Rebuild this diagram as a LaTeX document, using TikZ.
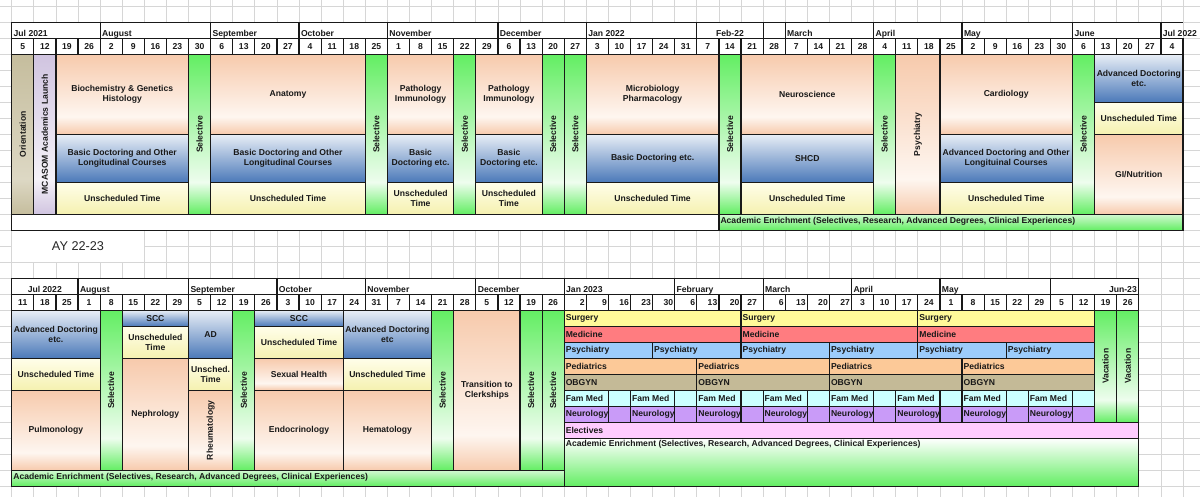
\documentclass[tikz,border=0pt]{standalone}
\usepackage{fontspec}
\setmainfont{Liberation Sans}
\definecolor{peach}{HTML}{F7CAAC}
\definecolor{peachw}{HTML}{FEF6F0}
\definecolor{selg}{HTML}{63EE63}
\definecolor{selgw}{HTML}{EEFDEE}
\definecolor{tanc}{HTML}{C5BD9D}
\definecolor{tanw}{HTML}{DDD8C4}
\definecolor{lavc}{HTML}{D0C4E0}
\definecolor{lavw}{HTML}{F5F2F8}
\definecolor{bluetop}{HTML}{E8EEF6}
\definecolor{bluebot}{HTML}{4B79B9}
\definecolor{yeltop}{HTML}{FFFEEA}
\definecolor{yelbot}{HTML}{F5F1B0}
\definecolor{aetop}{HTML}{D2F9D2}
\definecolor{surgc}{HTML}{FFFA99}
\definecolor{medc}{HTML}{FF7C80}
\definecolor{psyc}{HTML}{9CCCFB}
\definecolor{pedc}{HTML}{FCC998}
\definecolor{obc}{HTML}{C4BA97}
\definecolor{fmcol}{HTML}{CCFFFF}
\definecolor{nrcol}{HTML}{C99BF8}
\definecolor{elcol}{HTML}{FFCCFF}
\definecolor{gridc}{HTML}{D6D6D6}
\pgfdeclareverticalshading{peachsh}{100bp}{color(0bp)=(peach); color(25bp)=(peach); color(36bp)=(peachw); color(75bp)=(peach); color(100bp)=(peach)}
\pgfdeclareverticalshading{greensh}{100bp}{color(0bp)=(selg); color(25bp)=(selg); color(35bp)=(selgw); color(75bp)=(selg); color(100bp)=(selg)}
\pgfdeclareverticalshading{tansh}{100bp}{color(0bp)=(tanc); color(25bp)=(tanc); color(36bp)=(tanw); color(75bp)=(tanc); color(100bp)=(tanc)}
\pgfdeclareverticalshading{lavsh}{100bp}{color(0bp)=(lavc); color(25bp)=(lavc); color(36bp)=(lavw); color(75bp)=(lavc); color(100bp)=(lavc)}
\newcommand\lbl{\fontsize{8.6}{10}\selectfont\bfseries}
\tikzset{
  box/.style={draw=black!90, line width=1.2pt, inner sep=0pt, outer sep=0pt, rectangle, align=center, font=\lbl, text=black!90},
  txt/.style={inner sep=0pt, outer sep=0pt, font=\lbl, text=black!90, align=center},
  hdr/.style={fill=white},
  pch/.style={shade, shading=peachsh},
  grn/.style={shade, shading=greensh},
  tanbox/.style={shade, shading=tansh},
  lavbox/.style={shade, shading=lavsh},
  blu/.style={top color=bluetop, bottom color=bluebot},
  yel/.style={top color=yeltop, bottom color=yelbot},
  aeg/.style={top color=aetop, bottom color=selg},
  aeg2/.style={top color=white, bottom color=selg},
  gridline/.style={draw=gridc, line width=0.8pt}
}
% #1 name, #2 style, #3 c1, #4 c2, #5 y1, #6 y2, #7 text
\newcommand\cell[7]{%
  \pgfmathsetmacro\cxa{11.7+(#3)*22.1}%
  \pgfmathsetmacro\cxb{11.7+(#4)*22.1}%
  \pgfmathsetmacro\cwd{\cxb-\cxa}%
  \pgfmathsetmacro\cht{(#6)-(#5)}%
  \pgfmathsetmacro\cxm{(\cxa+\cxb)/2}%
  \pgfmathsetmacro\cym{((#5)+(#6))/2}%
  \node[box,#2,minimum width=\cwd pt,minimum height=\cht pt] (#1) at (\cxm,\cym) {#7};}
\newcommand\rcell[7]{\cell{#1}{#2}{#3}{#4}{#5}{#6}{}\node[txt,rotate=90] (#1t) at (#1.center) {#7};}
\newcommand\lcell[7]{\cell{#1}{#2}{#3}{#4}{#5}{#6}{}\node[txt,anchor=west] (#1t) at ([xshift=1.6pt]#1.west) {#7};}
\newcommand\mon[5]{\cell{#1}{hdr}{#2}{#3}{#4}{#4+16}{}\node[txt,anchor=base west] (#1t) at ([xshift=2pt,yshift=2.2pt]#1.south west) {#5};}
\newcommand\dcell[4]{\pgfmathsetmacro\cnext{#2+1}\cell{#1}{hdr}{#2}{\cnext}{#3}{#3+16}{#4}}
\newcommand\dcellr[4]{\pgfmathsetmacro\cnext{#2+1}\cell{#1}{hdr}{#2}{\cnext}{#3}{#3+16}{}\node[txt,anchor=east] (#1t) at ([xshift=-1.6pt]#1.east) {#4};}
\begin{document}
\begin{tikzpicture}[x=1pt,y=-1pt]
\useasboundingbox (0,0) rectangle (1200,497);
\fill[white] (0,0) rectangle (1200,497);
% spreadsheet grid
\foreach \k in {0,...,53}{\draw[gridline] ({11.7+\k*22.1},0) -- ({11.7+\k*22.1},497);}
\foreach \k in {0,...,30}{\draw[gridline] (0,{6.3+16*\k}) -- (1200,{6.3+16*\k});}

% ================= AY 21-22 =================
\mon{tm1}{0}{4}{22.3}{Jul 2021}
\mon{tm2}{4}{9}{22.3}{August}
\mon{tm3}{9}{13}{22.3}{September}
\mon{tm4}{13}{17}{22.3}{October}
\mon{tm5}{17}{22}{22.3}{November}
\mon{tm6}{22}{26}{22.3}{December}
\mon{tm7}{26}{31}{22.3}{Jan 2022}
\cell{tm8}{hdr}{31}{34}{22.3}{38.3}{}
\node[txt,anchor=base] (tm8t) at ([yshift=2.2pt]tm8.south) {Feb-22};
\cell{tm9}{hdr}{34}{35}{22.3}{38.3}{}
\mon{tm10}{35}{39}{22.3}{March}
\mon{tm11}{39}{43}{22.3}{April}
\mon{tm12}{43}{48}{22.3}{May}
\mon{tm13}{48}{52}{22.3}{June}
\cell{tm14}{hdr,draw=none}{52}{53}{22.3}{38.3}{}
\draw[draw=black!90,line width=1.2pt] (tm14.south west) -- (tm14.north west) -- (tm14.north east);
\node[txt,anchor=base west] (tm14t) at ([xshift=2pt,yshift=2.2pt]tm14.south west) {Jul 2022};
\foreach \d [count=\i from 0] in {5,12,19,26,2,9,16,23,30,6,13,20,27,4,11,18,25,1,8,15,22,29,6,13,20,27,3,10,17,24,31,7,14,21,28,7,14,21,28,4,11,18,25,2,9,16,23,30,6,13,20,27,4}{\dcell{td\i}{\i}{38.3}{\d}}

\rcell{orient}{tanbox}{0}{1}{54.3}{214.3}{Orientation}
\rcell{launch}{lavbox}{1}{2}{54.3}{214.3}{MCASOM Academics Launch}
\cell{bio}{pch}{2}{8}{54.3}{134.3}{Biochemistry \& Genetics\\Histology}
\cell{bd1}{blu}{2}{8}{134.3}{182.3}{Basic Doctoring and Other\\Longitudinal Courses}
\cell{u1}{yel}{2}{8}{182.3}{214.3}{Unscheduled Time}
\rcell{s1}{grn}{8}{9}{54.3}{214.3}{Selective}
\cell{anat}{pch}{9}{16}{54.3}{134.3}{Anatomy}
\cell{bd2}{blu}{9}{16}{134.3}{182.3}{Basic Doctoring and Other\\Longitudinal Courses}
\cell{u2}{yel}{9}{16}{182.3}{214.3}{Unscheduled Time}
\rcell{s2}{grn}{16}{17}{54.3}{214.3}{Selective}
\cell{path1}{pch}{17}{20}{54.3}{134.3}{Pathology\\Immunology}
\cell{bd3}{blu}{17}{20}{134.3}{182.3}{Basic\\Doctoring etc.}
\cell{u3}{yel}{17}{20}{182.3}{214.3}{Unscheduled\\Time}
\rcell{s3}{grn}{20}{21}{54.3}{214.3}{Selective}
\cell{path2}{pch}{21}{24}{54.3}{134.3}{Pathology\\Immunology}
\cell{bd4}{blu}{21}{24}{134.3}{182.3}{Basic\\Doctoring etc.}
\cell{u4}{yel}{21}{24}{182.3}{214.3}{Unscheduled\\Time}
\rcell{s4}{grn}{24}{25}{54.3}{214.3}{Selective}
\rcell{s5}{grn}{25}{26}{54.3}{214.3}{Selective}
\cell{micro}{pch}{26}{32}{54.3}{134.3}{Microbiology\\Pharmacology}
\cell{bd5}{blu}{26}{32}{134.3}{182.3}{Basic Doctoring etc.}
\cell{u5}{yel}{26}{32}{182.3}{214.3}{Unscheduled Time}
\rcell{s6}{grn}{32}{33}{54.3}{214.3}{Selective}
\cell{neuro}{pch}{33}{39}{54.3}{134.3}{Neuroscience}
\cell{shcd}{blu}{33}{39}{134.3}{182.3}{SHCD}
\cell{u6}{yel}{33}{39}{182.3}{214.3}{Unscheduled Time}
\rcell{s7}{grn}{39}{40}{54.3}{214.3}{Selective}
\rcell{psy}{pch}{40}{42}{54.3}{214.3}{Psychiatry}
\cell{cardio}{pch}{42}{48}{54.3}{134.3}{Cardiology}
\cell{adv1}{blu}{42}{48}{134.3}{182.3}{Advanced Doctoring and Other\\Longituinal Courses}
\cell{u7}{yel}{42}{48}{182.3}{214.3}{Unscheduled Time}
\rcell{s8}{grn}{48}{49}{54.3}{214.3}{Selective}
\cell{adv2}{blu}{49}{53}{54.3}{102.3}{Advanced Doctoring\\etc.}
\cell{u8}{yel}{49}{53}{102.3}{134.3}{Unscheduled Time}
\cell{gi}{pch}{49}{53}{134.3}{214.3}{GI/Nutrition}
\cell{aew}{hdr}{0}{32}{214.3}{230.3}{}
\cell{ae1}{aeg}{32}{53}{214.3}{230.3}{}
\node[txt,anchor=west] (ae1t) at ([xshift=1.6pt,yshift=1.5pt]ae1.west) {Academic Enrichment (Selectives, Research, Advanced Degrees, Clinical Experiences)};

% AY label
\node[fill=white, inner sep=0pt, minimum width=132.6pt, minimum height=31pt, font=\fontsize{12.7}{14}\selectfont, text=black!85] (ay) at (78,246.3) {AY 22-23};

% ================= AY 22-23 =================
\cell{bm1}{hdr}{0}{3}{278.3}{294.3}{}
\node[txt,anchor=base] (bm1t) at ([yshift=2.2pt]bm1.south) {Jul 2022};
\mon{bm2}{3}{8}{278.3}{August}
\mon{bm3}{8}{12}{278.3}{September}
\mon{bm4}{12}{16}{278.3}{October}
\mon{bm5}{16}{21}{278.3}{November}
\mon{bm6}{21}{25}{278.3}{December}
\mon{bm7}{25}{30}{278.3}{Jan 2023}
\mon{bm8}{30}{34}{278.3}{February}
\mon{bm9}{34}{38}{278.3}{March}
\mon{bm10}{38}{42}{278.3}{April}
\mon{bm11}{42}{47}{278.3}{May}
\cell{bm12}{hdr}{47}{51}{278.3}{294.3}{}
\node[txt,anchor=base east] (bm12t) at ([xshift=-2pt,yshift=2.2pt]bm12.south east) {Jun-23};
\foreach \d [count=\i from 0] in {11,18,25,1,8,15,22,29,5,12,19,26,3,10,17,24,31,7,14,21,28,5,12,19,26,2,9,16,23,30,6,13,20,27,6,13,20,27,3,10,17,24,1,8,15,22,29,5,12,19,26}{%
  \pgfmathtruncatemacro\rf{and(and(\i>24,\i<38),\i!=33)}%
  \ifnum\rf=1 \dcellr{bd\i}{\i}{294.3}{\d}\else\dcell{bd\i}{\i}{294.3}{\d}\fi}

\cell{adv3}{blu}{0}{4}{310.3}{358.3}{Advanced Doctoring\\etc.}
\cell{u9}{yel}{0}{4}{358.3}{390.3}{Unscheduled Time}
\cell{pulm}{pch}{0}{4}{390.3}{470.3}{Pulmonology}
\rcell{s9}{grn}{4}{5}{310.3}{470.3}{Selective}
\cell{scc1}{blu}{5}{8}{310.3}{326.3}{SCC}
\cell{u10}{yel}{5}{8}{326.3}{358.3}{Unscheduled\\Time}
\cell{neph}{pch}{5}{8}{358.3}{470.3}{Nephrology}
\cell{ad}{blu}{8}{10}{310.3}{358.3}{AD}
\cell{u11}{yel}{8}{10}{358.3}{390.3}{Unsched.\\Time}
\rcell{rheum}{pch}{8}{10}{390.3}{470.3}{Rheumatology}
\rcell{s10}{grn}{10}{11}{310.3}{470.3}{Selective}
\cell{scc2}{blu}{11}{15}{310.3}{326.3}{SCC}
\cell{u12}{yel}{11}{15}{326.3}{358.3}{Unscheduled Time}
\cell{sexh}{pch}{11}{15}{358.3}{390.3}{Sexual Health}
\cell{endo}{pch}{11}{15}{390.3}{470.3}{Endocrinology}
\cell{adv4}{blu}{15}{19}{310.3}{358.3}{Advanced Doctoring\\etc}
\cell{u13}{yel}{15}{19}{358.3}{390.3}{Unscheduled Time}
\cell{hema}{pch}{15}{19}{390.3}{470.3}{Hematology}
\rcell{s11}{grn}{19}{20}{310.3}{470.3}{Selective}
\cell{trans}{pch}{20}{23}{310.3}{470.3}{Transition to\\Clerkships}
\rcell{s12}{grn}{23}{24}{310.3}{470.3}{Selective}
\rcell{s13}{grn}{24}{25}{310.3}{470.3}{Selective}
\cell{ae2}{aeg}{0}{25}{470.3}{486.3}{}
\node[txt,anchor=west] (ae2t) at ([xshift=1.6pt,yshift=1.5pt]ae2.west) {Academic Enrichment (Selectives, Research, Advanced Degrees, Clinical Experiences)};

% clerkships
\foreach \a/\b [count=\j] in {25/33,33/41,41/49}{%
  \lcell{sg\j}{fill=surgc}{\a}{\b}{310.3}{326.3}{Surgery}
  \lcell{md\j}{fill=medc}{\a}{\b}{326.3}{342.3}{Medicine}}
\foreach \a/\b [count=\j] in {25/29,29/33,33/37,37/41,41/45,45/49}{%
  \lcell{ps\j}{fill=psyc}{\a}{\b}{342.3}{358.3}{Psychiatry}}
\foreach \a/\b [count=\j] in {25/31,31/37,37/43,43/49}{%
  \lcell{pd\j}{fill=pedc}{\a}{\b}{358.3}{374.3}{Pediatrics}
  \lcell{ob\j}{fill=obc}{\a}{\b}{374.3}{390.3}{OBGYN}}
\foreach \k in {0,...,7}{%
  \pgfmathtruncatemacro\ca{25+3*\k}\pgfmathtruncatemacro\cb{\ca+2}\pgfmathtruncatemacro\cc{\ca+3}%
  \lcell{fm\k}{fill=fmcol}{\ca}{\cb}{390.3}{406.3}{Fam Med}
  \cell{fmb\k}{fill=fmcol}{\cb}{\cc}{390.3}{406.3}{}
  \lcell{nr\k}{fill=nrcol}{\ca}{\cb}{406.3}{422.3}{Neurology}
  \cell{nrb\k}{fill=nrcol}{\cb}{\cc}{406.3}{422.3}{}}
\rcell{vac1}{grn}{49}{50}{310.3}{422.3}{Vacation}
\rcell{vac2}{grn}{50}{51}{310.3}{422.3}{Vacation}
\lcell{elec}{fill=elcol}{25}{51}{422.3}{438.3}{Electives}
\cell{ae3}{aeg2}{25}{51}{438.3}{486.3}{}
\node[txt,anchor=north west] (ae3t) at ([xshift=1.6pt,yshift=-2.2pt]ae3.north west) {Academic Enrichment (Selectives, Research, Advanced Degrees, Clinical Experiences)};
\end{tikzpicture}
\end{document}
